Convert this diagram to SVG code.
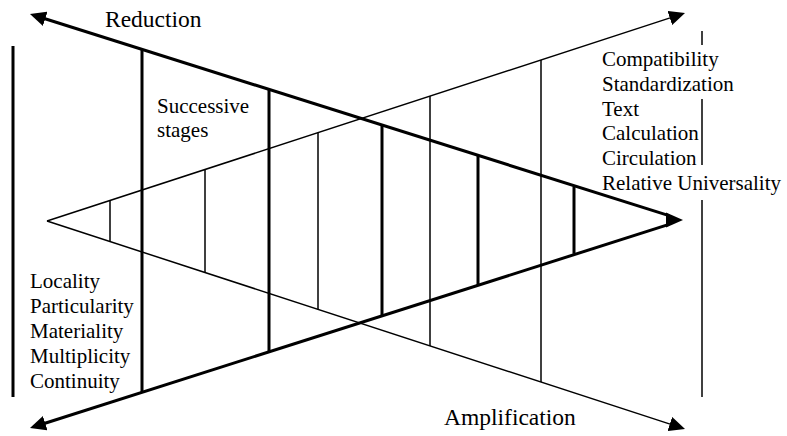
<svg xmlns="http://www.w3.org/2000/svg" width="787" height="436" viewBox="0 0 787 436">
<style>
.thick{stroke:#000;stroke-width:3;fill:none}
.thin{stroke:#000;stroke-width:1.5;fill:none}
.bv{stroke:#000;stroke-width:3}
.tv{stroke:#000;stroke-width:1.5}
text{font-family:'Liberation Serif','Times New Roman',serif;font-size:21px;fill:#000}
.big{font-size:23.5px}
</style>
<defs>
<marker id="ah" viewBox="0 0 16 15" refX="6" refY="7.5" markerWidth="16" markerHeight="15" markerUnits="userSpaceOnUse" orient="auto">
<path d="M0,0 L16,7.5 L0,15 z" fill="#000"/>
</marker>
</defs>
<rect width="787" height="436" fill="#fff"/>
<g id="connectors">
<path class="thick" d="M669,215.6 L39.5,17" marker-end="url(#ah)"/>
<path class="thick" d="M669,224.4 L39.5,425" marker-end="url(#ah)"/>
<polygon points="666,212.5 683,220 666,227.5" fill="#000"/>
<path class="thin" d="M47,221 L675.5,16.1" marker-end="url(#ah)"/>
<path class="thin" d="M47,221 L675.5,425.9" marker-end="url(#ah)"/>
</g>
<g id="stages">
<line class="tv" x1="110" y1="200.5" x2="110" y2="241.5"/>
<line class="bv" x1="142" y1="49.3" x2="142" y2="392.3"/>
<line class="tv" x1="205" y1="169.5" x2="205" y2="272.5"/>
<line class="bv" x1="269" y1="89.4" x2="269" y2="351.9"/>
<line class="tv" x1="318" y1="132.7" x2="318" y2="309.3"/>
<line class="bv" x1="382" y1="125" x2="382" y2="315.9"/>
<line class="tv" x1="430" y1="96.1" x2="430" y2="345.9"/>
<line class="bv" x1="478" y1="155.3" x2="478" y2="285.3"/>
<line class="tv" x1="541" y1="60" x2="541" y2="382"/>
<line class="bv" x1="574" y1="186.5" x2="574" y2="253.8"/>
</g>
<g id="left-bar">
<line class="bv" x1="13" y1="46" x2="13" y2="397"/>
</g>
<g id="right-bar">
<line class="tv" x1="702" y1="31" x2="702" y2="45"/>
<line class="tv" x1="702" y1="99" x2="702" y2="165"/>
<line class="tv" x1="702" y1="200" x2="702" y2="397"/>
</g>
<g id="reduction"><text class="big" x="105" y="27">Reduction</text></g>
<g id="amplification"><text class="big" x="444" y="425">Amplification</text></g>
<g id="successive">
<text x="157" y="113">Successive</text>
<text x="157" y="137">stages</text>
</g>
<g id="right-list">
<text x="602" y="66">Compatibility</text>
<text x="602" y="91">Standardization</text>
<text x="602" y="116">Text</text>
<text x="602" y="140">Calculation</text>
<text x="602" y="165">Circulation</text>
<text x="602" y="190">Relative Universality</text>
</g>
<g id="left-list">
<text x="30" y="288">Locality</text>
<text x="30" y="313">Particularity</text>
<text x="30" y="338">Materiality</text>
<text x="30" y="363">Multiplicity</text>
<text x="30" y="388">Continuity</text>
</g>
</svg>
